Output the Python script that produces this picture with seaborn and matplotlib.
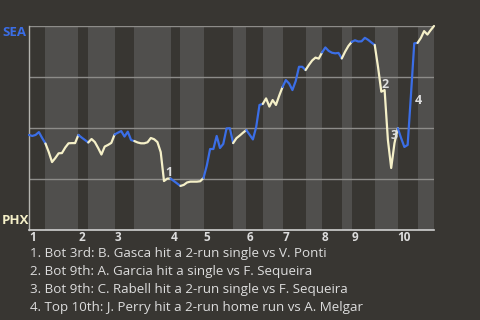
import matplotlib
matplotlib.use("Agg")
import matplotlib.pyplot as plt
import seaborn as sns
import pandas as pd
import numpy as np

# plays in each half inning: T1, B1, T2, B2, ... T10, B10
half_plays = [5, 10, 3, 8, 6, 11, 3, 7, 9, 4, 5, 6, 7, 5, 6, 3, 7, 7, 6, 5]
innings = ["1", "2", "3", "4", "5", "6", "7", "8", "9", "10"]

# SEA win probability (%) before the first play and after every play
sea_wp = [
    46.6, 46.1, 46.6, 48.0, 45.1, 42.4,                                  # T1
    38.2, 33.3, 35.3, 37.6, 37.7, 40.4, 42.5, 42.6, 42.6, 46.6,          # B1
    45.3, 44.1, 42.9,                                                    # T2
    44.6, 43.1, 40.2, 37.0, 40.9, 41.7, 42.7, 46.8,                      # B2
    47.7, 48.5, 45.8, 48.2, 44.1, 43.6,                                  # T3
    42.9, 42.5, 42.5, 43.0, 45.1, 44.5, 43.1, 38.2, 24.0, 25.2, 25.2,    # B3
    24.0, 22.8, 21.6,                                                    # T4
    22.1, 23.3, 23.7, 23.7, 23.7, 23.9, 25.5,                            # B4
    31.6, 39.7, 39.7, 46.1, 40.2, 42.2, 49.8, 49.9, 42.6,                # T5
    45.0, 46.3, 47.7, 49.0,                                              # B5
    46.7, 44.4, 50.5, 61.3, 61.8,                                        # T6
    64.5, 60.5, 63.7, 61.3, 65.9, 70.1,                                  # B6
    73.5, 71.8, 68.6, 73.0, 80.0, 80.0, 78.4,                            # T7
    80.9, 83.1, 84.5, 84.0, 87.0,                                        # B7
    89.5, 87.8, 86.9, 86.6, 86.8, 84.1,                                  # T8
    87.4, 90.2, 92.2,                                                    # B8
    93.0, 92.4, 92.5, 94.2, 93.2, 91.9, 90.7,                            # T9
    79.9, 67.8, 68.6, 44.1, 30.4, 42.6, 49.9,                            # B9
    45.1, 40.7, 41.7, 66.2, 91.5, 91.7,                                  # T10
    94.1, 97.5, 95.8, 98.0, 100.0,                                       # B10
]

event_plays = [41, 107, 111, 116]
event_notes = [
    "1. Bot 3rd: B. Gasca hit a 2-run single vs V. Ponti",
    "2. Bot 9th: A. Garcia hit a single vs F. Sequeira",
    "3. Bot 9th: C. Rabell hit a 2-run single vs F. Sequeira",
    "4. Top 10th: J. Perry hit a 2-run home run vs A. Melgar",
]

bg = "#383632"
band = "#504f4d"
sea_blue = "#3b6ee6"
phx_cream = "#f5f0c8"
txt = "#dddddd"

sns.set_theme(style="dark", rc={"axes.facecolor": bg, "figure.facecolor": bg})
plt.rcParams["font.family"] = ["Open Sans", "DejaVu Sans"]

fig = plt.figure(figsize=(4.8, 3.2), dpi=100)
ax = fig.add_axes([29 / 480, 90 / 320, 405 / 480, 204 / 320])

bounds = np.concatenate([[0], np.cumsum(half_plays)])
df = pd.DataFrame({"play": np.arange(len(sea_wp)), "wp": sea_wp})

# bottom halves get the lighter band
for i in range(len(half_plays)):
    if i % 2 == 1:
        ax.axvspan(bounds[i], bounds[i + 1], color=band, lw=0, zorder=0)

for y in [25, 50, 75, 100]:
    ax.axhline(y, color="#8d8c89", lw=1, zorder=1)

for i in range(len(half_plays)):
    seg = df.iloc[bounds[i]:bounds[i + 1] + 1]
    sns.lineplot(data=seg, x="play", y="wp", ax=ax, lw=1.6,
                 color=sea_blue if i % 2 == 0 else phx_cream,
                 zorder=3, clip_on=False)

offsets = [(5, 9), (4, 7), (0, 8), (7, -6)]
for n, (p, off) in enumerate(zip(event_plays, offsets)):
    ax.annotate(str(n + 1), xy=(p, sea_wp[p]), xytext=off, textcoords="offset pixels",
                ha="center", va="center", fontsize=9, fontweight="bold", color=txt, zorder=4)

ax.set_xlim(0, bounds[-1])
ax.set_ylim(0, 100)
ax.set_xticks(bounds[::2][:len(innings)])
ax.set_xticklabels(innings, ha="left", fontsize=8.5, fontweight="bold", color=txt)
ax.tick_params(axis="x", length=0, pad=1)
ax.set_yticks([])
ax.set_xlabel("")
ax.set_ylabel("")
ax.grid(False)
for s in ["top", "right"]:
    ax.spines[s].set_visible(False)
ax.spines["left"].set_color("#b5b5b0")
ax.spines["bottom"].set_color("#d0d0d0")
ax.spines["left"].set_linewidth(1)
ax.spines["bottom"].set_linewidth(1.2)

fig.text(2 / 480, 1 - 33 / 320, "SEA", color=sea_blue, fontsize=9.5, fontweight="bold", va="center")
fig.text(2 / 480, 1 - 220 / 320, "PHX", color=phx_cream, fontsize=9.5, fontweight="bold", va="center")

for j, note in enumerate(event_notes):
    fig.text(30 / 480, 1 - (254 + 18 * j) / 320, note, color=txt, fontsize=9.6, va="center")

fig.savefig("out.png", dpi=100, facecolor=bg)
